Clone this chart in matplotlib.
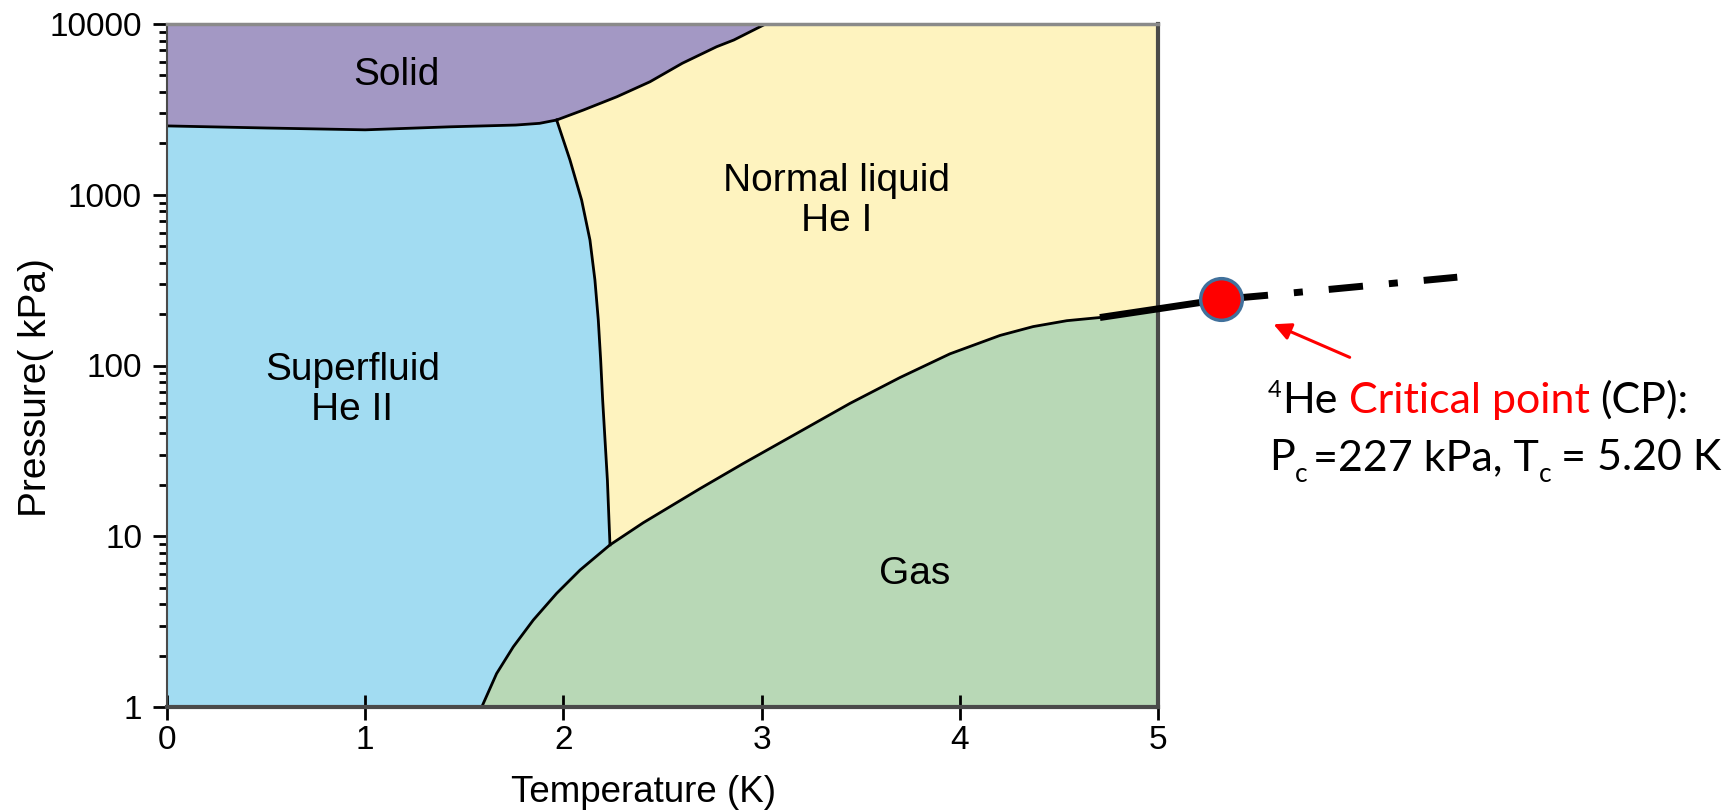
# Diagrama de fases del helio-4 con punto crítico
import numpy as np
import matplotlib.pyplot as plt
from matplotlib.ticker import LogLocator, NullFormatter

plt.rcParams['font.family'] = ['Liberation Sans', 'DejaVu Sans']
plt.rcParams['lines.scale_dashes'] = False

# curvas de coexistencia (T en K, P en kPa)
melt_T = [0.0, 0.5, 1.0, 1.43, 1.76, 1.88, 1.966]          # sólido / superfluido
melt_P = [2530, 2460, 2400, 2500, 2560, 2620, 2740]
sl_T = [1.966, 2.101, 2.27, 2.437, 2.6, 2.773, 2.86, 3.02]   # sólido / líquido normal
sl_P = [2740, 3135, 3750, 4590, 5890, 7360, 8060, 10000]
lam_T = [1.966, 2.033, 2.092, 2.134, 2.159, 2.176, 2.188, 2.198, 2.21, 2.222, 2.23, 2.235]  # línea lambda
lam_P = [2740, 1600, 930, 543, 317, 185, 108, 63, 36.6, 21.3, 12.4, 8.9]
vap_T = [1.588, 1.663, 1.747, 1.848, 1.966, 2.084, 2.235, 2.403, 2.689, 2.908,
         3.16, 3.446, 3.698, 3.95, 4.203, 4.37, 4.54, 4.707]        # presión de vapor
vap_P = [1.0, 1.57, 2.25, 3.23, 4.63, 6.34, 8.9, 12.0, 19.0, 26.7,
         39, 60, 85, 117, 150, 169, 183, 191]

# tramo grueso hasta el punto crítico y su prolongación
crit_T = [4.707, 5.32, 5.555]
crit_P = [191, 244, 258]
ext_T = [5.555, 6.51]
ext_P = [258, 329]
cp_T, cp_P = 5.32, 244
arrow_tail = (5.98, 110)
arrow_head = (5.57, 177)
gas_edge_P = 215   # borde del gas en T = 5 K
T_lambda = 2.235   # unión línea lambda / curva de vapor

y_ticks = [1, 10, 100, 1000, 10000]
y_labels = ['1', '10', '100', '1000', '10000']
x_ticks = [0, 1, 2, 3, 4, 5]

regions = [('Solid', 1.16, 5000), ('Normal liquid\nHe I', 3.38, 920),
           ('Superfluid\nHe II', 0.935, 72), ('Gas', 3.77, 6.0)]

W, H = 1727, 810
fig = plt.figure(figsize=(W / 100, H / 100), dpi=100)
ax = fig.add_axes([167 / W, 1 - 707 / H, (1158 - 167) / W, (707 - 24) / H])
ax.set_yscale('log')
ax.set_xlim(0, 5)
ax.set_ylim(1, 10000)

c_solid, c_super, c_liq, c_gas = '#A398C4', '#A2DCF2', '#FEF3BF', '#B8D8B6'

# regiones
j = vap_T.index(T_lambda)
ax.fill(melt_T + sl_T + [0], melt_P + sl_P + [10000], color=c_solid, lw=0)
sup_T = [0] + vap_T[:j] + lam_T[::-1] + melt_T[::-1]
sup_P = [1] + vap_P[:j] + lam_P[::-1] + melt_P[::-1]
ax.fill(sup_T, sup_P, color=c_super, lw=0)
liq_T = lam_T + vap_T[j + 1:] + [5, 5] + sl_T[::-1]
liq_P = lam_P + vap_P[j + 1:] + [gas_edge_P, 10000] + sl_P[::-1]
ax.fill(liq_T, liq_P, color=c_liq, lw=0)
ax.fill(vap_T + [5, 5], vap_P + [gas_edge_P, 1], color=c_gas, lw=0)

# fronteras
for t, p in [(melt_T, melt_P), (sl_T, sl_P), (lam_T, lam_P), (vap_T, vap_P)]:
    ax.plot(t, p, color='black', lw=2, solid_joinstyle='round')

ax.plot(crit_T, crit_P, color='black', lw=5, clip_on=False, solid_capstyle='butt', zorder=4)
ax.plot(ext_T, ext_P, color='black', lw=5, clip_on=False, dash_capstyle='butt',
        linestyle=(24.8, (24.8, 18.7, 6.5, 18.7)), zorder=4)
ax.plot(cp_T, cp_P, 'o', ms=30, mfc='red', mec='#41719C', mew=2.5, clip_on=False, zorder=6)
ax.annotate('', xy=arrow_head, xytext=arrow_tail, annotation_clip=False,
            arrowprops=dict(arrowstyle='-|>', color='red', lw=2.2, mutation_scale=26))

for txt, t, p in regions:
    ax.text(t, p, txt, ha='center', va='center', fontsize=28, linespacing=1.15)

# ejes
ax.set_xticks(x_ticks)
ax.set_yticks(y_ticks, labels=y_labels)
ax.yaxis.set_minor_locator(LogLocator(subs=range(2, 10)))
ax.yaxis.set_minor_formatter(NullFormatter())
ax.tick_params(axis='y', which='major', direction='out', length=10, width=2, labelsize=24, pad=8)
ax.tick_params(axis='y', which='minor', direction='out', length=6, width=2)
ax.tick_params(axis='x', which='major', direction='inout', length=18, width=2, labelsize=24, pad=4)
for s, w in [('left', 1.5), ('bottom', 3), ('right', 3), ('top', 2.5)]:
    ax.spines[s].set_linewidth(w)
    ax.spines[s].set_color('#4a4a4a')
ax.spines['top'].set_color('#8a8a8a')

ax.set_xlabel('Temperature (K)', fontsize=26.5)
ax.xaxis.set_label_coords(0.481, -0.1)
ax.set_ylabel('Pressure( kPa)', fontsize=28)
ax.yaxis.set_label_coords(-0.114, 0.467)

# texto del punto crítico
FONT = ['Lato', 'DejaVu Sans']
r = fig.canvas.get_renderer()


def width(s, size):
    t = fig.text(0, 0, s, fontsize=size, family=FONT)
    w = t.get_window_extent(r).width
    t.remove()
    return w


def put_line(pieces, x, y):
    for s, size, color, dy, gap in pieces:
        fig.text(x / W, 1 - (y + dy) / H, s, fontsize=size, color=color,
                 family=FONT, va='baseline', ha='left')
        x += width(s, size) + gap * (width('H H', size) - width('HH', size))


main = 31
put_line([('4', 17, 'black', -16, 0.1), ('He', main, 'black', 0, 1),
          ('Critical point', main, 'red', 0, 1), ('(CP):', main, 'black', 0, 0)], 1268, 413)
put_line([('P', main, 'black', 0, 0), ('c', 19, 'black', 12, 0.8),
          ('=227 kPa, T', main, 'black', 0, 0), ('c', 19, 'black', 12, 1.4),
          ('= 5.20 K', main, 'black', 0, 0)], 1269, 470)

fig.savefig('out.png', dpi=100)
